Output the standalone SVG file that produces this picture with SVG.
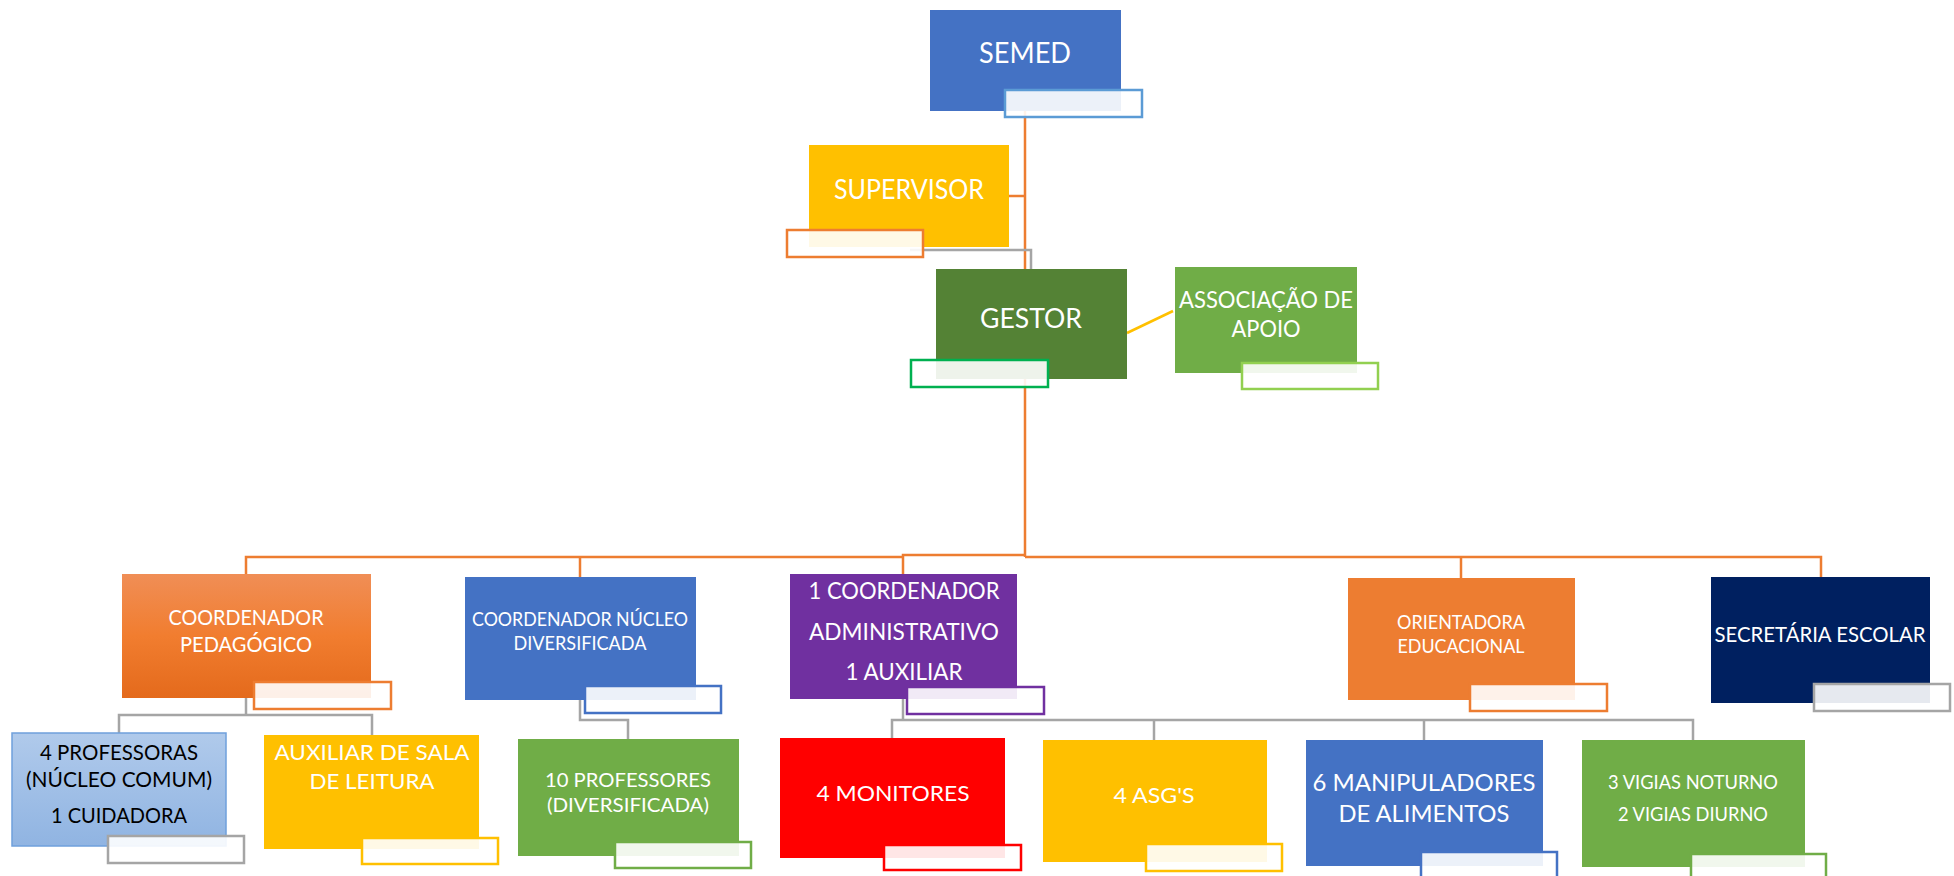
<svg xmlns="http://www.w3.org/2000/svg" width="1954" height="876" viewBox="0 0 1954 876">
<style>
  .t { font-family: Lato, "Open Sans", "Liberation Sans", sans-serif; fill: #ffffff; text-anchor: middle; }
  .dk { fill: #000000; }
  .lbl { fill: #ffffff; fill-opacity: 0.9; stroke-width: 2.5; }
  .or { fill: none; stroke: #ED7D31; stroke-width: 2.5; }
  .gr { fill: none; stroke: #A5A5A5; stroke-width: 2.5; }
  .ye { fill: none; stroke: #FFC000; stroke-width: 2.5; }
</style>
<defs>
  <linearGradient id="gOr" x1="0" y1="0" x2="0" y2="1">
    <stop offset="0" stop-color="#F08E56"/>
    <stop offset="0.5" stop-color="#F17D2F"/>
    <stop offset="1" stop-color="#E46A1C"/>
  </linearGradient>
  <linearGradient id="gBl" x1="0" y1="0" x2="0" y2="1">
    <stop offset="0" stop-color="#B0CAEB"/>
    <stop offset="1" stop-color="#90B4E2"/>
  </linearGradient>
</defs>
<rect width="1954" height="876" fill="#ffffff"/>
<g id="connectors">
  <path class="or" d="M1025 111 V557"/>
  <path class="or" d="M1009 196 H1025"/>
  <path class="or" d="M1025 555 H903 V574"/>
  <path class="or" d="M903 557 H246 V575"/>
  <path class="or" d="M580 557 V577"/>
  <path class="or" d="M1025 557 H1821 V577"/>
  <path class="or" d="M1461 557 V578"/>
  <path class="gr" d="M910 250 H1031 V269"/>
  <path class="gr" d="M246 697 V715"/>
  <path class="gr" d="M119 733 V715 H372 V735"/>
  <path class="gr" d="M580 700 V720 H628 V739"/>
  <path class="gr" d="M903 699 V720"/>
  <path class="gr" d="M892 738 V720 H1693 V740"/>
  <path class="gr" d="M1154 720 V740"/>
  <path class="gr" d="M1424 720 V740"/>
  <path class="ye" d="M1127 333 L1173 311"/>
</g>
<g id="semed">
  <rect x="930" y="10" width="191" height="101" fill="#4472C4"/>
  <rect class="lbl" x="1005" y="90" width="137" height="27" stroke="#5B9BD5"/>
  <text class="t" x="1025" y="63" font-size="28" textLength="92" lengthAdjust="spacingAndGlyphs">SEMED</text>
</g>
<g id="supervisor">
  <rect x="809" y="145" width="200" height="102" fill="#FFC000"/>
  <rect class="lbl" x="787" y="230" width="136" height="27" stroke="#ED7D31"/>
  <text class="t" x="909" y="199" font-size="26" textLength="150" lengthAdjust="spacingAndGlyphs">SUPERVISOR</text>
</g>
<g id="gestor">
  <rect x="936" y="269" width="191" height="110" fill="#548235"/>
  <rect class="lbl" x="911" y="360" width="137" height="27" stroke="#00B050"/>
  <text class="t" x="1031" y="328" font-size="26" textLength="102" lengthAdjust="spacingAndGlyphs">GESTOR</text>
</g>
<g id="associacao">
  <rect x="1175" y="267" width="182" height="106" fill="#70AD47"/>
  <rect class="lbl" x="1242" y="363" width="136" height="26" stroke="#92D050"/>
  <text class="t" x="1266" y="308" font-size="24" textLength="174" lengthAdjust="spacingAndGlyphs">ASSOCIAÇÃO DE</text>
  <text class="t" x="1266" y="337" font-size="24" textLength="69" lengthAdjust="spacingAndGlyphs">APOIO</text>
</g>
<g id="coord-pedagogico">
  <rect x="122" y="574" width="249" height="124" fill="url(#gOr)"/>
  <rect class="lbl" x="254" y="682" width="137" height="27" stroke="#ED7D31"/>
  <text class="t" x="246" y="625" font-size="21" textLength="155" lengthAdjust="spacingAndGlyphs">COORDENADOR</text>
  <text class="t" x="246" y="652" font-size="21" textLength="132" lengthAdjust="spacingAndGlyphs">PEDAGÓGICO</text>
</g>
<g id="coord-nucleo">
  <rect x="465" y="577" width="231" height="123" fill="#4472C4"/>
  <rect class="lbl" x="585" y="686" width="136" height="27" stroke="#4472C4"/>
  <text class="t" x="580" y="626" font-size="20" textLength="216" lengthAdjust="spacingAndGlyphs">COORDENADOR NÚCLEO</text>
  <text class="t" x="580" y="650" font-size="20" textLength="133" lengthAdjust="spacingAndGlyphs">DIVERSIFICADA</text>
</g>
<g id="coord-admin">
  <rect x="790" y="574" width="227" height="125" fill="#7030A0"/>
  <rect class="lbl" x="907" y="687" width="137" height="27" stroke="#7030A0"/>
  <text class="t" x="904" y="599" font-size="23" textLength="191" lengthAdjust="spacingAndGlyphs">1 COORDENADOR</text>
  <text class="t" x="904" y="640" font-size="23" textLength="190" lengthAdjust="spacingAndGlyphs">ADMINISTRATIVO</text>
  <text class="t" x="904" y="680" font-size="23" textLength="117" lengthAdjust="spacingAndGlyphs">1 AUXILIAR</text>
</g>
<g id="orientadora">
  <rect x="1348" y="578" width="227" height="122" fill="#ED7D31"/>
  <rect class="lbl" x="1470" y="684" width="137" height="27" stroke="#ED7D31"/>
  <text class="t" x="1461" y="629" font-size="20" textLength="128" lengthAdjust="spacingAndGlyphs">ORIENTADORA</text>
  <text class="t" x="1461" y="653" font-size="20" textLength="127" lengthAdjust="spacingAndGlyphs">EDUCACIONAL</text>
</g>
<g id="secretaria">
  <rect x="1711" y="577" width="219" height="126" fill="#002060"/>
  <rect class="lbl" x="1814" y="684" width="136" height="27" stroke="#A5A5A5"/>
  <text class="t" x="1820" y="642" font-size="22" textLength="211" lengthAdjust="spacingAndGlyphs">SECRETÁRIA ESCOLAR</text>
</g>
<g id="professoras">
  <rect x="12" y="733" width="214" height="113" fill="url(#gBl)" stroke="#6FA0DC" stroke-width="1.5"/>
  <rect class="lbl" x="108" y="836" width="136" height="27" stroke="#A5A5A5"/>
  <text class="t dk" x="119" y="760" font-size="21" textLength="158" lengthAdjust="spacingAndGlyphs">4 PROFESSORAS</text>
  <text class="t dk" x="119" y="787" font-size="21" textLength="186" lengthAdjust="spacingAndGlyphs">(NÚCLEO COMUM)</text>
  <text class="t dk" x="119" y="823" font-size="21" textLength="136" lengthAdjust="spacingAndGlyphs">1 CUIDADORA</text>
</g>
<g id="auxiliar-sala">
  <rect x="264" y="735" width="215" height="114" fill="#FFC000"/>
  <rect class="lbl" x="362" y="838" width="136" height="26" stroke="#FFC000"/>
  <text class="t" x="372" y="760" font-size="22" textLength="195" lengthAdjust="spacingAndGlyphs">AUXILIAR DE SALA</text>
  <text class="t" x="372" y="789" font-size="22" textLength="125" lengthAdjust="spacingAndGlyphs">DE LEITURA</text>
</g>
<g id="professores">
  <rect x="518" y="739" width="221" height="117" fill="#70AD47"/>
  <rect class="lbl" x="615" y="842" width="136" height="26" stroke="#70AD47"/>
  <text class="t" x="628" y="787" font-size="20" textLength="166" lengthAdjust="spacingAndGlyphs">10 PROFESSORES</text>
  <text class="t" x="628" y="812" font-size="20" textLength="162" lengthAdjust="spacingAndGlyphs">(DIVERSIFICADA)</text>
</g>
<g id="monitores">
  <rect x="780" y="738" width="225" height="120" fill="#FF0000"/>
  <rect class="lbl" x="884" y="845" width="137" height="25" stroke="#FF0000"/>
  <text class="t" x="893" y="801" font-size="22" textLength="153" lengthAdjust="spacingAndGlyphs">4 MONITORES</text>
</g>
<g id="asgs">
  <rect x="1043" y="740" width="224" height="122" fill="#FFC000"/>
  <rect class="lbl" x="1146" y="844" width="136" height="27" stroke="#FFC000"/>
  <text class="t" x="1154" y="803" font-size="22" textLength="81" lengthAdjust="spacingAndGlyphs">4 ASG'S</text>
</g>
<g id="manipuladores">
  <rect x="1306" y="740" width="237" height="126" fill="#4472C4"/>
  <rect class="lbl" x="1421" y="852" width="136" height="27" stroke="#4472C4"/>
  <text class="t" x="1424" y="791" font-size="24" textLength="223" lengthAdjust="spacingAndGlyphs">6 MANIPULADORES</text>
  <text class="t" x="1424" y="822" font-size="24" textLength="171" lengthAdjust="spacingAndGlyphs">DE ALIMENTOS</text>
</g>
<g id="vigias">
  <rect x="1582" y="740" width="223" height="127" fill="#70AD47"/>
  <rect class="lbl" x="1691" y="854" width="135" height="27" stroke="#70AD47"/>
  <text class="t" x="1693" y="789" font-size="20" textLength="170" lengthAdjust="spacingAndGlyphs">3 VIGIAS NOTURNO</text>
  <text class="t" x="1693" y="821" font-size="20" textLength="150" lengthAdjust="spacingAndGlyphs">2 VIGIAS DIURNO</text>
</g>
</svg>
